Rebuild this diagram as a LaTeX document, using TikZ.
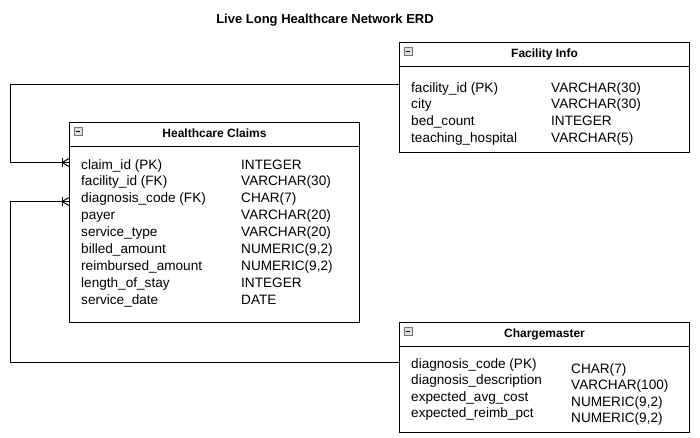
\documentclass[tikz,border=0pt]{standalone}
\usepackage{fontspec}
\setmainfont{Liberation Sans}
\usetikzlibrary{calc}

\tikzset{
  entity/.style={draw=black, line width=1pt, fill=white, rectangle, anchor=north west,
    minimum width=290pt, inner sep=0pt},
  conn/.style={draw=black, line width=1pt},
  headtext/.style={font=\fontsize{12}{14}\selectfont\bfseries, anchor=base, inner sep=0pt},
  attr/.style={font=\fontsize{13.6}{16}\selectfont, anchor=base west, inner sep=0pt},
  iconbox/.style={draw=gray!90!black, fill=gray!25, line width=0.8pt},
}

% collapse marker in the corner of an entity header
\newcommand{\collapsemark}[1]{%
  \draw[iconbox] ($(#1.north west)+(5.5,5.5)$) rectangle ++(7.5,7.5);
  \draw[black, line width=1pt] ($(#1.north west)+(7.3,9.25)$) -- ++(4,0);
}
% header rule and title of an entity
\newcommand{\entityhead}[2]{%
  \draw[line width=1pt] ($(#1.north west)+(0,24)$) -- ($(#1.north east)+(0,24)$);
  \node[headtext] (#1-title) at ($(#1.north)+(0,15.5)$) {#2};
}
% crow's foot (many, with bar) ending at a named coordinate on a left edge
\newcommand{\crowfoot}[1]{%
  \draw[conn] ($(#1)+(-7,0)$) -- ($(#1)+(0,-4)$);
  \draw[conn] ($(#1)+(-7,0)$) -- ($(#1)+(0,4)$);
  \draw[conn] ($(#1)+(-7,-4.5)$) -- ($(#1)+(-7,4.5)$);
}

\begin{document}
\begin{tikzpicture}[x=1pt, y=-1pt]
\useasboundingbox[fill=white] (0,0) rectangle (700,437);

\node[font=\fontsize{13}{15}\selectfont\bfseries, anchor=base, inner sep=0pt] (title) at (325,23.5)
  {Live Long Healthcare Network ERD};

% entities
\node[entity, minimum height=110pt] (fac) at (399,42) {};
\node[entity, minimum height=200pt] (claims) at (69,122) {};
\node[entity, minimum height=110pt] (charge) at (399,322) {};

\entityhead{fac}{Facility Info}
\entityhead{claims}{Healthcare Claims}
\entityhead{charge}{Chargemaster}
\collapsemark{fac}
\collapsemark{claims}
\collapsemark{charge}

% attributes: Facility Info
\foreach \n/\t [count=\i from 0] in {facility\_id (PK)/VARCHAR(30), city/VARCHAR(30),
    bed\_count/INTEGER, teaching\_hospital/VARCHAR(5)} {
  \node[attr] (fac-n\i) at ($(fac.north west)+(12,50+16.7*\i)$) {\n};
  \node[attr] (fac-t\i) at ($(fac.north west)+(152,50+16.7*\i)$) {\t};
}

% attributes: Healthcare Claims
\foreach \n/\t [count=\i from 0] in {claim\_id (PK)/INTEGER, facility\_id (FK)/VARCHAR(30),
    diagnosis\_code (FK)/CHAR(7), payer/VARCHAR(20), service\_type/VARCHAR(20),
    {billed\_amount/NUMERIC(9,2)}, {reimbursed\_amount/NUMERIC(9,2)},
    length\_of\_stay/INTEGER, service\_date/DATE} {
  \node[attr] (claims-n\i) at ($(claims.north west)+(12,47+16.9*\i)$) {\n};
  \node[attr] (claims-t\i) at ($(claims.north west)+(172,47+16.9*\i)$) {\t};
}

% attributes: Chargemaster
\foreach \n/\t [count=\i from 0] in {diagnosis\_code (PK)/CHAR(7),
    diagnosis\_description/VARCHAR(100), {expected\_avg\_cost/NUMERIC(9,2)},
    {expected\_reimb\_pct/NUMERIC(9,2)}} {
  \node[attr] (charge-n\i) at ($(charge.north west)+(12,46+16.5*\i)$) {\n};
  \node[attr] (charge-t\i) at ($(charge.north west)+(172,51+16.5*\i)$) {\t};
}

% relationships
\coordinate (facport) at ($(fac.north west)+(0,42)$);
\coordinate (claimsfac) at ($(claims.north west)+(0,40.5)$);
\coordinate (chargeport) at ($(charge.north west)+(0,40)$);
\coordinate (claimsdiag) at ($(claims.north west)+(0,79.5)$);

\draw[conn] (facport) -- ++(-388.5,0) |- (claimsfac);
\crowfoot{claimsfac}
\draw[conn] (chargeport) -- ++(-388.5,0) |- (claimsdiag);
\crowfoot{claimsdiag}
\end{tikzpicture}
\end{document}
